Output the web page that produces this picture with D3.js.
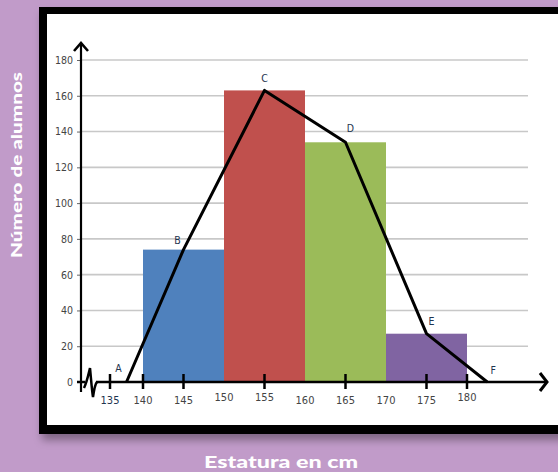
<!DOCTYPE html>
<html><head><meta charset="utf-8">
<script src="https://cdn.jsdelivr.net/npm/d3@7"></script>
<style>html,body{margin:0;padding:0;background:#c19bc9;overflow:hidden}</style>
</head><body>
<svg id="c" width="558" height="472"></svg>
<script>
// ---- data ----
const binStart = [140, 150, 160, 170];
const binEnd   = [150, 160, 170, 180];
const counts   = [74, 163, 134, 27];
const barColors = ["#4f81bd", "#c0504d", "#9bbb59", "#8064a2"];
const polyLabels = ["A", "B", "C", "D", "E", "F"];
const polyX = [137.5, 145, 155, 165, 175, 182.5];
const polyY = [0, 74, 163, 134, 27, 0];
const xTickLabels = [135, 140, 145, 150, 155, 160, 165, 170, 175, 180];
const xTickMarks = [135, 140, 145, 155, 165, 175, 180];
const yTicks = [0, 20, 40, 60, 80, 100, 120, 140, 160, 180];
const yTitle = "Número de alumnos";
const xTitle = "Estatura en cm";

const svg = d3.select("#c");
const defs = svg.append("defs");
const f = defs.append("filter").attr("id","sh").attr("x","-10%").attr("y","-10%").attr("width","130%").attr("height","130%");
f.append("feDropShadow").attr("dx",3).attr("dy",6).attr("stdDeviation",4).attr("flood-color","#000").attr("flood-opacity",0.35);

// panel
svg.append("rect").attr("x",39).attr("y",7).attr("width",560).attr("height",427).attr("fill","#000").attr("filter","url(#sh)");
svg.append("rect").attr("x",47).attr("y",14).attr("width",560).attr("height",411).attr("fill","#fff");

// axis drawn with a broken (compressed) segment before 140
const x = d3.scaleLinear().domain([135, 140, 180]).range([110, 143, 467]);
const y = d3.scaleLinear().domain([0, 180]).range([382, 60]);
const x0 = 81, xEnd = 528;
const fontC = "'Liberation Sans Narrow','DejaVu Sans Condensed',sans-serif";

// gridlines
svg.append("g").selectAll("line").data(yTicks.filter(d => d > 0)).join("line")
  .attr("x1", x0).attr("x2", xEnd).attr("y1", d => y(d)).attr("y2", d => y(d))
  .attr("stroke", "#c8c8c8").attr("stroke-width", 1.6);

// y tick labels + small ticks
const yAxis = d3.axisLeft(y).tickValues(yTicks).tickSize(4).tickPadding(4);
const ga = svg.append("g").attr("transform", `translate(${x0},0)`).call(yAxis);
ga.select(".domain").remove();
ga.selectAll(".tick line").attr("stroke", "#666");
ga.selectAll(".tick text").attr("font-family", fontC)
  .attr("font-size", 10.5).attr("fill", "#444");

// bars
svg.append("g").selectAll("rect").data(counts).join("rect")
  .attr("x", (d, i) => x(binStart[i]))
  .attr("width", (d, i) => x(binEnd[i]) - x(binStart[i]))
  .attr("y", d => y(d)).attr("height", d => y(0) - y(d))
  .attr("fill", (d, i) => barColors[i]);

// y axis line with arrow
svg.append("line").attr("x1", x0).attr("x2", x0).attr("y1", 43).attr("y2", 392)
  .attr("stroke", "#000").attr("stroke-width", 2.2);
svg.append("path").attr("d", `M${x0-7},51 L${x0},43 L${x0+7},51`).attr("fill","none")
  .attr("stroke","#000").attr("stroke-width",2.6).attr("stroke-linejoin","miter");

// x axis line with break and arrow
const y0 = y(0);
svg.append("line").attr("x1", x0 - 4).attr("x2", x0 + 4).attr("y1", y0).attr("y2", y0).attr("stroke","#000").attr("stroke-width",2.5);
svg.append("path").attr("d", `M${x0+3},388 C${x0+6},382 ${x0+8},372 ${x0+9},368 C${x0+10},378 ${x0+11},392 ${x0+12},397 C${x0+13},390 ${x0+14},384 ${x0+16},382`)
  .attr("fill","none").attr("stroke","#000").attr("stroke-width",2.5);
svg.append("line").attr("x1", x0 + 15).attr("x2", 546).attr("y1", y0).attr("y2", y0).attr("stroke","#000").attr("stroke-width",2.5);
svg.append("path").attr("d", `M540,373 L547,${y0} L540,391`).attr("fill","none")
  .attr("stroke","#000").attr("stroke-width",3);

// x tick marks
svg.append("g").selectAll("line").data(xTickMarks).join("line")
  .attr("x1", d => x(d)).attr("x2", d => x(d)).attr("y1", y0 - 8).attr("y2", y0 + 7)
  .attr("stroke","#000").attr("stroke-width",2.5);
// x tick labels
svg.append("g").selectAll("text").data(xTickLabels).join("text")
  .attr("x", d => x(d)).attr("y", d => (d === 150 || d === 155 || d === 180) ? 401 : 404)
  .attr("text-anchor","middle")
  .attr("font-family", fontC)
  .attr("font-size", 11).attr("fill", d => d === 135 ? "#1f3550" : "#444")
  .text(d => d);

// frequency polygon
const line = d3.line().x(d => x(d[0])).y(d => y(d[1]));
const pts = polyX.map((v, i) => [v, polyY[i]]);
svg.append("path").attr("d", line(pts)).attr("fill","none")
  .attr("stroke","#000").attr("stroke-width",3).attr("stroke-linejoin","round");

// point labels
const lblDx = [-8, -6, 0, 5, 5, 6];
const lblDy = [-10, -6, -8, -10, -9, -8];
svg.append("g").selectAll("text").data(pts).join("text")
  .attr("x", (d, i) => x(d[0]) + lblDx[i]).attr("y", (d, i) => y(d[1]) + lblDy[i])
  .attr("text-anchor","middle")
  .attr("font-family", fontC)
  .attr("font-size", 10.5).attr("fill", "#1f3550")
  .text((d, i) => polyLabels[i]);

// titles
svg.append("text").attr("transform","translate(22,165) rotate(-90)")
  .attr("text-anchor","middle").attr("font-family","Lato, 'Open Sans', sans-serif")
  .attr("font-weight",900).attr("font-size",15).attr("fill","#fff")
  .attr("textLength",186).attr("lengthAdjust","spacingAndGlyphs")
  .text(yTitle);
svg.append("text").attr("x",281).attr("y",468)
  .attr("text-anchor","middle").attr("font-family","Lato, 'Open Sans', sans-serif")
  .attr("font-weight",900).attr("font-size",16).attr("fill","#fff")
  .attr("textLength",154).attr("lengthAdjust","spacingAndGlyphs")
  .text(xTitle);
</script>
</body></html>
